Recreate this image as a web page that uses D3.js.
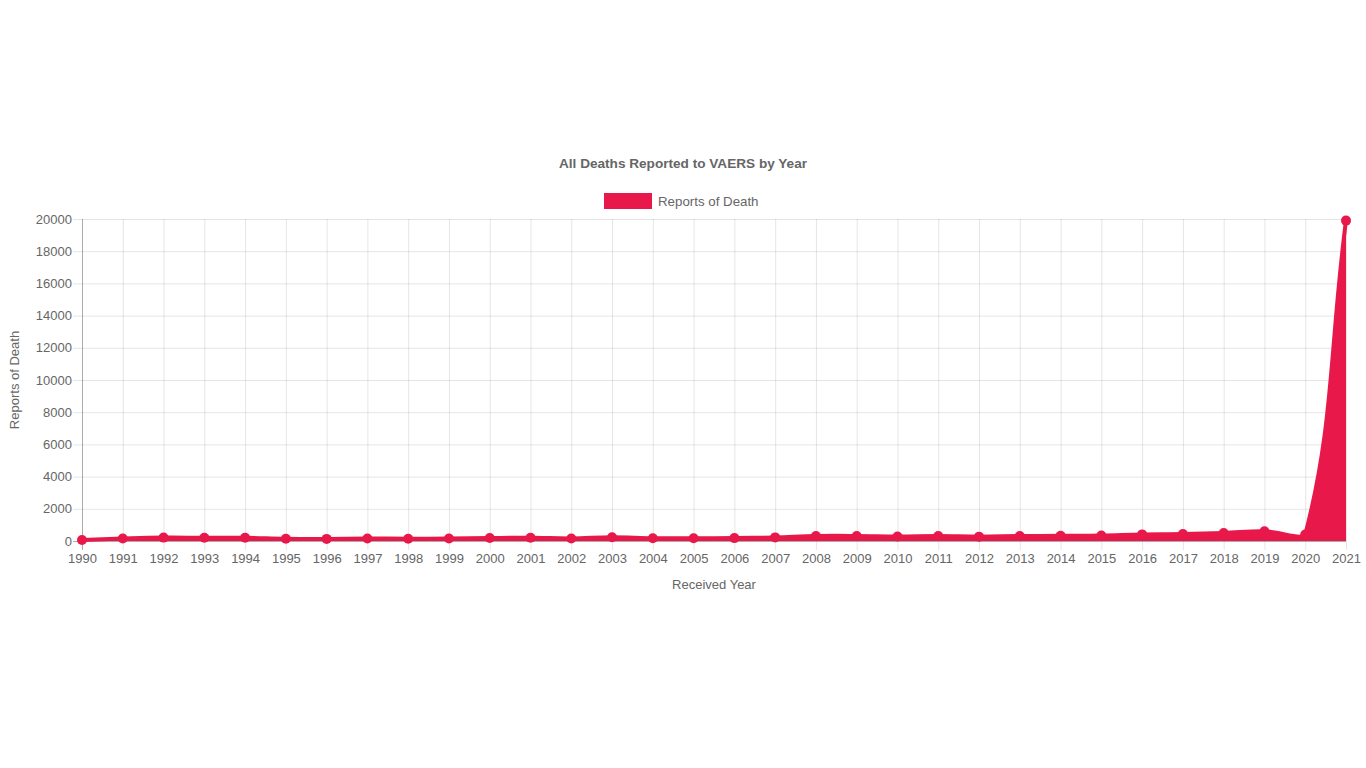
<!DOCTYPE html>
<html>
<head>
<meta charset="utf-8">
<script src="https://cdn.jsdelivr.net/npm/d3@7"></script>
<style>
  html, body { margin: 0; padding: 0; background: #fff; }
  svg { display: block; font-family: "Liberation Sans", Arial, Helvetica, sans-serif; }
</style>
</head>
<body>
<svg id="chart" width="1366" height="768"></svg>
<script>
// ---- data ----
const years = ["1990","1991","1992","1993","1994","1995","1996","1997","1998","1999",
  "2000","2001","2002","2003","2004","2005","2006","2007","2008","2009",
  "2010","2011","2012","2013","2014","2015","2016","2017","2018","2019",
  "2020","2021"];
const deaths = [60, 150, 210, 200, 200, 140, 130, 155, 145, 155,
  185, 200, 160, 230, 170, 175, 180, 225, 310, 315,
  280, 305, 270, 305, 320, 340, 410, 430, 495, 605,
  400, 19900];
const yTicks = [0, 2000, 4000, 6000, 8000, 10000, 12000, 14000, 16000, 18000, 20000];
const titleText = "All Deaths Reported to VAERS by Year";
const seriesName = "Reports of Death";
const xTitle = "Received Year";
const yTitle = "Reports of Death";

// ---- layout ----
const W = 1366, H = 768;
const area = { left: 82, right: 1346, top: 219, bottom: 541 };
const color = "#E8194A";
const textColor = "#666";
const fontPx = "13px";

const svg = d3.select("#chart");

const x = d3.scalePoint().domain(years).range([area.left, area.right]);
const y = d3.scaleLinear().domain([0, 20000]).range([area.bottom, area.top]);

// Chart.js-like spline curve (tension 0.4, control points capped to chart area)
function chartJsCurve(tension, bounds) {
  function C(context) { this._context = context; }
  C.prototype = {
    areaStart() { this._line = 0; },
    areaEnd() { this._line = NaN; },
    lineStart() { this._x = []; this._y = []; },
    point(px, py) { this._x.push(+px); this._y.push(+py); },
    lineEnd() {
      const xs = this._x, ys = this._y, n = xs.length, ctx = this._context;
      if (n) {
        if (this._line) ctx.lineTo(xs[0], ys[0]); else ctx.moveTo(xs[0], ys[0]);
        const cps = [];
        for (let i = 0; i < n; i++) {
          const p = i > 0 ? i - 1 : i, q = i < n - 1 ? i + 1 : i;
          const d01 = Math.hypot(xs[i] - xs[p], ys[i] - ys[p]);
          const d12 = Math.hypot(xs[q] - xs[i], ys[q] - ys[i]);
          let s01 = d01 / (d01 + d12), s12 = d12 / (d01 + d12);
          if (!isFinite(s01)) s01 = 0;
          if (!isFinite(s12)) s12 = 0;
          const fa = tension * s01, fb = tension * s12;
          const cl = (v, a, b) => Math.max(Math.min(v, b), a);
          cps.push({
            px: cl(xs[i] - fa * (xs[q] - xs[p]), bounds.left, bounds.right),
            py: cl(ys[i] - fa * (ys[q] - ys[p]), bounds.top, bounds.bottom),
            nx: cl(xs[i] + fb * (xs[q] - xs[p]), bounds.left, bounds.right),
            ny: cl(ys[i] + fb * (ys[q] - ys[p]), bounds.top, bounds.bottom)
          });
        }
        for (let i = 1; i < n; i++) {
          ctx.bezierCurveTo(cps[i - 1].nx, cps[i - 1].ny, cps[i].px, cps[i].py, xs[i], ys[i]);
        }
      }
      if (this._line || (this._line !== 0 && n === 1)) ctx.closePath();
      this._line = 1 - this._line;
    }
  };
  return context => new C(context);
}
const curve = chartJsCurve(0.4, area);

// ---- grid ----
const grid = svg.append("g");
grid.selectAll("line.hy").data(yTicks).join("line")
  .attr("x1", area.left - 9).attr("x2", area.right)
  .attr("y1", d => y(d) + 0.5).attr("y2", d => y(d) + 0.5)
  .attr("stroke", "rgba(0,0,0,0.1)").attr("stroke-width", 1);
grid.selectAll("line.vx").data(years).join("line")
  .attr("x1", d => x(d) + 0.5).attr("x2", d => x(d) + 0.5)
  .attr("y1", area.top).attr("y2", area.bottom + 9)
  .attr("stroke", "rgba(0,0,0,0.1)").attr("stroke-width", 1);
// axis lines
svg.append("line").attr("x1", area.left + 0.5).attr("x2", area.left + 0.5)
  .attr("y1", area.top).attr("y2", area.bottom + 9)
  .attr("stroke", "rgba(0,0,0,0.25)");
svg.append("line").attr("x1", area.left - 9).attr("x2", area.right)
  .attr("y1", area.bottom + 0.5).attr("y2", area.bottom + 0.5)
  .attr("stroke", "rgba(0,0,0,0.25)");

// ---- axes labels ----
const yAxis = d3.axisLeft(y).tickValues(yTicks).tickSize(0).tickPadding(10).tickFormat(d3.format("d"));
const gy = svg.append("g").attr("transform", `translate(${area.left},0)`).call(yAxis);
gy.select(".domain").remove();
gy.selectAll("text").attr("fill", textColor).style("font-size", fontPx)
  .style("font-family", "'Liberation Sans', Arial, sans-serif");

const xAxis = d3.axisBottom(x).tickSize(0).tickPadding(13);
const gx = svg.append("g").attr("transform", `translate(0,${area.bottom})`).call(xAxis);
gx.select(".domain").remove();
gx.selectAll("text").attr("fill", textColor).style("font-size", fontPx)
  .style("font-family", "'Liberation Sans', Arial, sans-serif");

// ---- series ----
const areaGen = d3.area().x((d, i) => x(years[i])).y0(y(0)).y1(d => y(d)).curve(curve);
const lineGen = d3.line().x((d, i) => x(years[i])).y(d => y(d)).curve(curve);
svg.append("path").datum(deaths).attr("d", areaGen).attr("fill", color);
svg.append("path").datum(deaths).attr("d", lineGen).attr("fill", "none")
  .attr("stroke", color).attr("stroke-width", 4).attr("stroke-linejoin", "round");
svg.append("g").selectAll("circle").data(deaths).join("circle")
  .attr("cx", (d, i) => x(years[i])).attr("cy", d => y(d)).attr("r", 5)
  .attr("fill", color);

// ---- title & legend ----
svg.append("text").attr("x", W / 2).attr("y", 168).attr("text-anchor", "middle")
  .attr("fill", textColor).style("font-size", "13.6px").style("font-weight", "bold")
  .text(titleText);
const leg = svg.append("g");
leg.append("rect").attr("x", 604).attr("y", 193).attr("width", 48).attr("height", 16).attr("fill", color);
leg.append("text").attr("x", 658).attr("y", 205.5).attr("fill", textColor)
  .style("font-size", "13.3px").text(seriesName);

// axis titles
svg.append("text").attr("x", (area.left + area.right) / 2).attr("y", 589)
  .attr("text-anchor", "middle").attr("fill", textColor).style("font-size", fontPx).text(xTitle);
svg.append("text").attr("transform", `translate(19,${(area.top + area.bottom) / 2}) rotate(-90)`)
  .attr("text-anchor", "middle").attr("fill", textColor).style("font-size", fontPx).text(yTitle);
</script>
</body>
</html>
